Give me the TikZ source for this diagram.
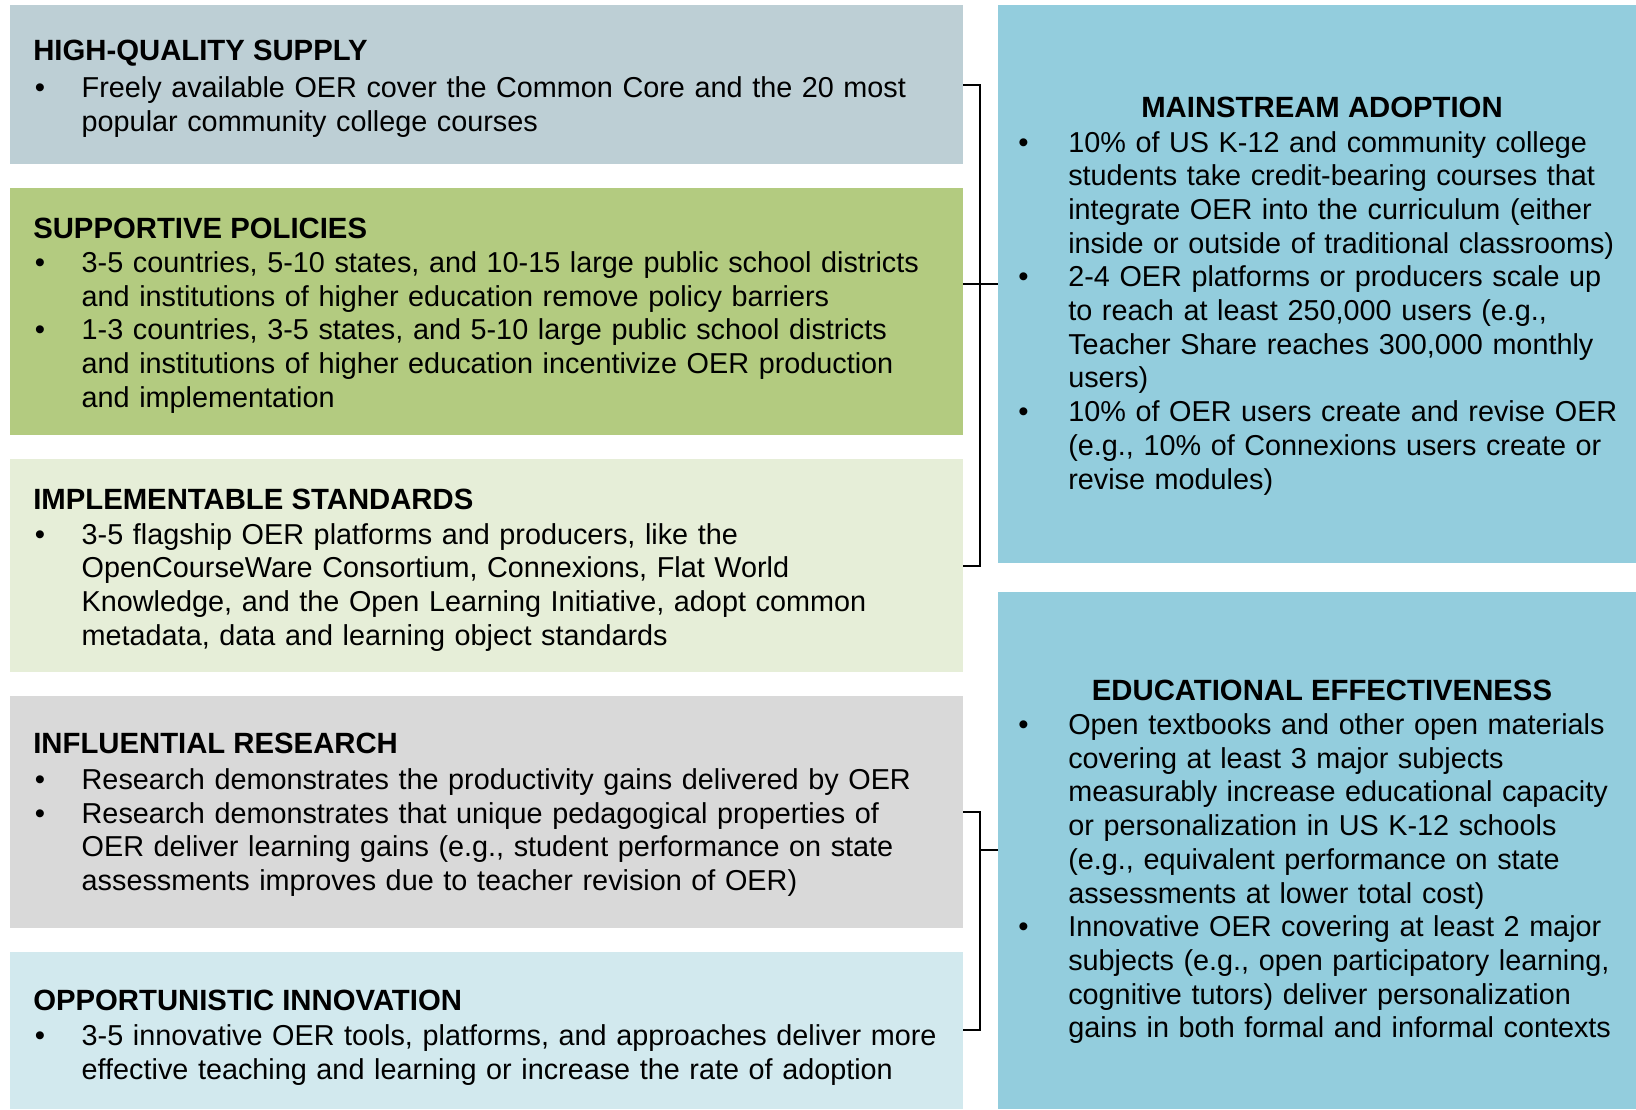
\documentclass[tikz,border=0pt]{standalone}
\usepackage{fontspec}
\setmainfont{Liberation Sans}
\begin{document}
\definecolor{supplyfill}{HTML}{BDCFD5}
\definecolor{policyfill}{HTML}{B3CB80}
\definecolor{standardfill}{HTML}{E6EED8}
\definecolor{researchfill}{HTML}{D9D9D9}
\definecolor{innovfill}{HTML}{D2E9EE}
\definecolor{outcomefill}{HTML}{93CDDD}
\begin{tikzpicture}[x=1pt,y=-1pt,
  panel/.style={draw=none,rectangle,inner sep=0pt,outer sep=0pt,anchor=north west},
  heading/.style={inner sep=0pt,outer sep=0pt,font=\fontsize{29.3}{33.7}\selectfont\bfseries},
  bul/.style={inner sep=0pt,outer sep=0pt,anchor=base,font=\fontsize{29.3}{33.7}\selectfont},
  body/.style={inner sep=0pt,outer sep=0pt,anchor=base west,align=left,text width=#1,font=\fontsize{28.8}{33.7}\selectfont},
  body/.default=900pt,
  bracket/.style={line width=2pt,black}]
\useasboundingbox (0,0) rectangle (1636,1109);

% left column panels
\node[panel,fill=supplyfill,minimum width=953pt,minimum height=158.6pt] (supply) at (10.4,5.2) {};
\node[panel,fill=policyfill,minimum width=953pt,minimum height=247.2pt] (policies) at (10.4,187.8) {};
\node[panel,fill=standardfill,minimum width=953pt,minimum height=213pt] (standards) at (10.4,459) {};
\node[panel,fill=researchfill,minimum width=953pt,minimum height=231.6pt] (research) at (10.4,696) {};
\node[panel,fill=innovfill,minimum width=953pt,minimum height=157.4pt] (innovation) at (10.4,951.6) {};

% right column panels
\node[panel,fill=outcomefill,minimum width=638.5pt,minimum height=558.2pt] (adoption) at (997.5,5.2) {};
\node[panel,fill=outcomefill,minimum width=638.5pt,minimum height=517.4pt] (effect) at (997.5,591.6) {};

% HIGH-QUALITY SUPPLY
\node[heading,anchor=base west] (supplyH) at (33.3,60.5) {HIGH-QUALITY SUPPLY};
\node[bul] (supplyB1) at (40,97.5) {\textbullet};
\node[body] (supplyT1) at (81.7,97.5) {Freely available OER cover the Common Core and the 20 most\\popular community college courses};

% SUPPORTIVE POLICIES
\node[heading,anchor=base west] (policiesH) at (33.3,238.5) {SUPPORTIVE POLICIES};
\node[bul] (policiesB1) at (40,272.3) {\textbullet};
\node[body] (policiesT1) at (81.7,272.3) {3-5 countries, 5-10 states, and 10-15 large public school districts\\and institutions of higher education remove policy barriers};
\node[bul] (policiesB2) at (40,339.7) {\textbullet};
\node[body] (policiesT2) at (81.7,339.7) {1-3 countries, 3-5 states, and 5-10 large public school districts\\and institutions of higher education incentivize OER production\\and implementation};

% IMPLEMENTABLE STANDARDS
\node[heading,anchor=base west] (standardsH) at (33.3,509.5) {IMPLEMENTABLE STANDARDS};
\node[bul] (standardsB1) at (40,544.2) {\textbullet};
\node[body] (standardsT1) at (81.7,544.2) {3-5 flagship OER platforms and producers, like the\\OpenCourseWare Consortium, Connexions, Flat World\\Knowledge, and the Open Learning Initiative, adopt common\\metadata, data and learning object standards};

% INFLUENTIAL RESEARCH
\node[heading,anchor=base west] (researchH) at (33.3,753.3) {INFLUENTIAL RESEARCH};
\node[bul] (researchB1) at (40,789.5) {\textbullet};
\node[body] (researchT1) at (81.7,789.5) {Research demonstrates the productivity gains delivered by OER};
\node[bul] (researchB2) at (40,823) {\textbullet};
\node[body] (researchT2) at (81.7,823) {Research demonstrates that unique pedagogical properties of\\OER deliver learning gains (e.g., student performance on state\\assessments improves due to teacher revision of OER)};

% OPPORTUNISTIC INNOVATION
\node[heading,anchor=base west] (innovationH) at (33.3,1010) {OPPORTUNISTIC INNOVATION};
\node[bul] (innovationB1) at (40,1045.8) {\textbullet};
\node[body] (innovationT1) at (81.7,1045.8) {3-5 innovative OER tools, platforms, and approaches deliver more\\effective teaching and learning or increase the rate of adoption};

% MAINSTREAM ADOPTION
\node[heading,anchor=base] (adoptionH) at (1322,117.3) {MAINSTREAM ADOPTION};
\node[bul] (adoptionB1) at (1023.5,152) {\textbullet};
\node[body=600pt] (adoptionT1) at (1068.3,152) {10\% of US K-12 and community college\\students take credit-bearing courses that\\integrate OER into the curriculum (either\\inside or outside of traditional classrooms)};
\node[bul] (adoptionB2) at (1023.5,286.8) {\textbullet};
\node[body=600pt] (adoptionT2) at (1068.3,286.8) {2-4 OER platforms or producers scale up\\to reach at least 250,000 users (e.g.,\\Teacher Share reaches 300,000 monthly\\users)};
\node[bul] (adoptionB3) at (1023.5,421.6) {\textbullet};
\node[body=600pt] (adoptionT3) at (1068.3,421.6) {10\% of OER users create and revise OER\\(e.g., 10\% of Connexions users create or\\revise modules)};

% EDUCATIONAL EFFECTIVENESS
\node[heading,anchor=base] (effectH) at (1322,700) {EDUCATIONAL EFFECTIVENESS};
\node[bul] (effectB1) at (1023.5,734.5) {\textbullet};
\node[body=600pt] (effectT1) at (1068.3,734.5) {Open textbooks and other open materials\\covering at least 3 major subjects\\measurably increase educational capacity\\or personalization in US K-12 schools\\(e.g., equivalent performance on state\\assessments at lower total cost)};
\node[bul] (effectB2) at (1023.5,936.7) {\textbullet};
\node[body=600pt] (effectT2) at (1068.3,936.7) {Innovative OER covering at least 2 major\\subjects (e.g., open participatory learning,\\cognitive tutors) deliver personalization\\gains in both formal and informal contexts};

% brackets joining the left panels to the outcome panels
\coordinate (spineA) at (980,0);
\draw[bracket] (supply.east) -| (spineA |- standards.east) -- (standards.east);
\draw[bracket] (policies.east |- adoption.west) -- (adoption.west);
\draw[bracket] (research.east) -| (spineA |- innovation.east) -- (innovation.east);
\draw[bracket] (spineA |- effect.west) -- (effect.west);
\end{tikzpicture}
\end{document}
